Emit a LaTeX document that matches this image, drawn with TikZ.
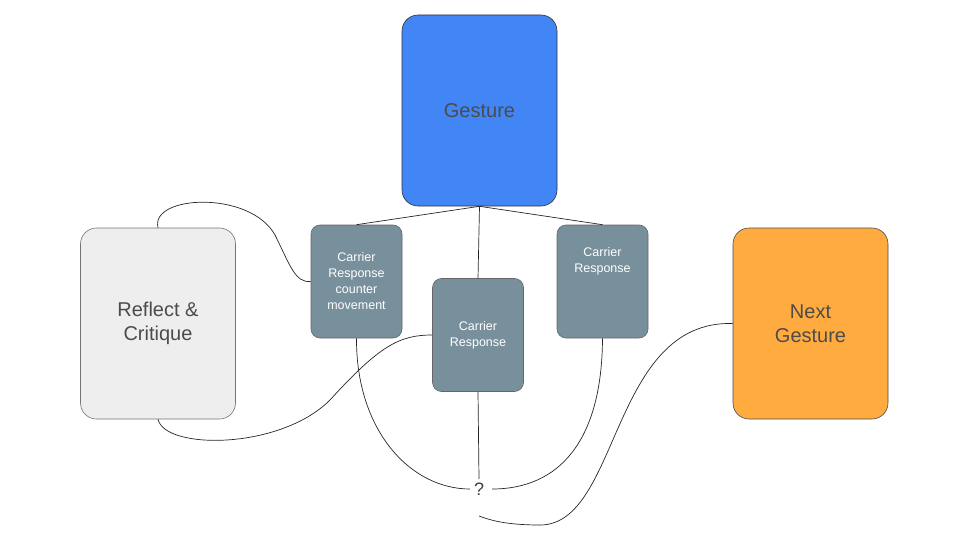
\documentclass[tikz,border=0pt]{standalone}
\usepackage{fontspec}
\setmainfont{Liberation Sans}
\begin{document}
\begin{tikzpicture}[x=1pt,y=-1pt,
  big/.style={draw=#1!70!black, rounded corners=16pt, minimum width=155pt, minimum height=191pt, font=\fontsize{20}{24}\selectfont, text=black!70, align=center, line width=0.6pt},
  small/.style={draw=black!60, fill=grayblue, rounded corners=9pt, minimum width=91pt, minimum height=113pt, font=\fontsize{12.5}{16}\selectfont, text=white, align=center, line width=0.6pt},
  con/.style={draw=black!85, line width=0.7pt}]
\definecolor{gblue}{HTML}{4285F4}
\definecolor{gorange}{HTML}{FFAB40}
\definecolor{glight}{HTML}{EEEEEE}
\definecolor{grayblue}{HTML}{78909C}
\useasboundingbox (0,0) rectangle (960,540);
\node[big=gblue, fill=gblue, draw=black!80] (g) at (479.5,110.5) {Gesture};
\node[big=glight, fill=glight, draw=black!55] (r) at (158,323.5) {Reflect \&\\Critique};
\node[big=gorange, fill=gorange, draw=black!70] (n) at (810.5,323.5) {Next\\Gesture};
\node[small] (c1) at (356.5,281.5) {Carrier\\Response\\counter\\movement};
\node[small] (c2) at (478,335) {Carrier\\Response};
\node[small] (c3) at (602.5,281.5) {Carrier\\Response\\[28pt]};
\node[font=\fontsize{18}{20}\selectfont, text=black!75] (q) at (479,489) {?};
\coordinate (q1) at (470,489);
\coordinate (q2) at (492,489);
\coordinate (q3) at (479,516);
\draw[con] (g.south) -- (c1.north);
\draw[con] (g.south) -- (c2.north);
\draw[con] (g.south) -- (c3.north);
\draw[con] (r.north) .. controls (150,195) and (250,190) .. (275,235) .. controls (290,265) and (295,283) .. (c1.west);
\draw[con] (r.south) .. controls (165,450) and (280,450) .. (330,400) .. controls (380,345) and (400,335) .. (c2.west);
\draw[con] (c1.south) .. controls (356,430) and (410,489) .. (q1);
\draw[con] (c2.south) -- (q.north);
\draw[con] (c3.south) .. controls (602,440) and (560,489) .. (q2);
\draw[con] (n.west) .. controls (610,320) and (620,525) .. (540,525) .. controls (505,525) and (490,520) .. (q3);
\end{tikzpicture}
\end{document}
